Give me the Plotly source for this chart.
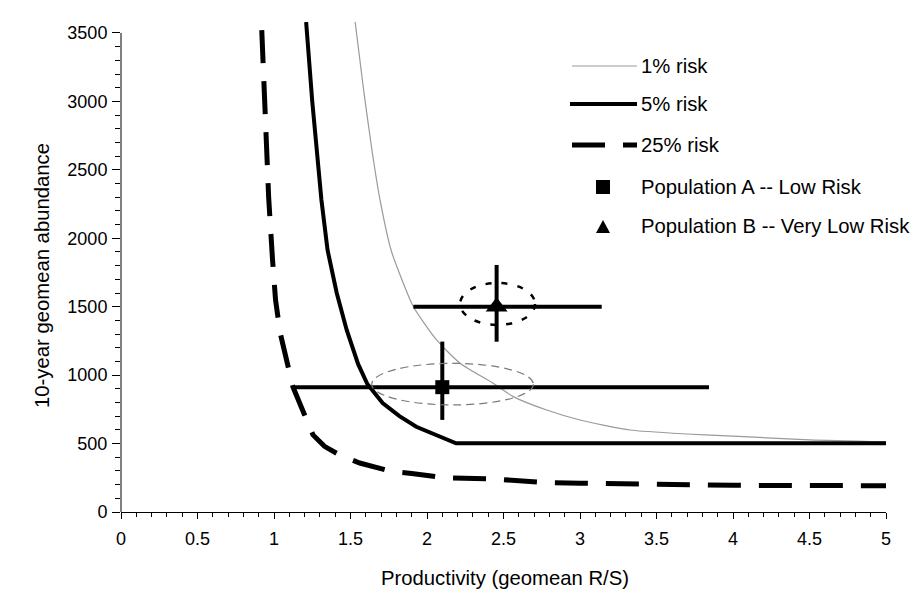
import plotly.graph_objects as go

# ---------------- data ----------------
risk1_x = [1.53, 1.585, 1.64, 1.693, 1.765, 1.837, 1.911, 2.063, 2.216, 2.433, 2.564, 2.782, 3.00, 3.327, 3.70, 4.00, 4.50, 5.00]
risk1_y = [3583, 3090, 2645, 2280, 1914, 1695, 1500, 1257, 1087, 940, 843, 745, 672, 599, 570, 555, 527, 512]

risk5_x = [1.21, 1.25, 1.31, 1.35, 1.41, 1.475, 1.55, 1.61, 1.71, 1.82, 1.93, 2.06, 2.19, 5.00]
risk5_y = [3580, 3000, 2280, 1914, 1600, 1330, 1080, 935, 796, 700, 623, 560, 502, 502]

risk25_x = [0.92, 0.95, 0.965, 0.99, 1.01, 1.04, 1.085, 1.124, 1.20, 1.255, 1.33, 1.43, 1.56, 1.77, 1.90, 2.107, 2.44, 2.78, 3.00, 3.50, 4.00, 5.00]
risk25_y = [3520, 2700, 2300, 1850, 1550, 1310, 1090, 913, 709, 563, 480, 416, 358, 295, 282, 251, 241, 214, 210, 200, 195, 192]

popA = dict(x=2.10, y=912, ex_minus=0.963, ex_plus=1.743, ey_minus=239, ey_plus=333)
popB = dict(x=2.455, y=1500, ex_minus=0.544, ex_plus=0.687, ey_minus=256, ey_plus=305)

ellA = dict(cx=2.167, cy=934, rx=0.528, ry=152)
ellB = dict(cx=2.461, cy=1520, rx=0.245, ry=153)

x_ticks = [0, 0.5, 1, 1.5, 2, 2.5, 3, 3.5, 4, 4.5, 5]
y_ticks = [0, 500, 1000, 1500, 2000, 2500, 3000, 3500]

legend_labels = ["1% risk", "5% risk", "25% risk", "Population A -- Low Risk", "Population B -- Very Low Risk"]

x_title = "Productivity (geomean R/S)"
y_title = "10-year geomean abundance"

# ---------------- layout geometry ----------------
OFF = 8  # page body margin
W, H = 913, 593
L, R, T, B = 113, 35, 14, 89
PW, PH = W - L - R, H - T - B
Y_TOP = 3580
FONT = "Liberation Sans, Arial, sans-serif"
GRAY = "#9a9a9a"
TXT = 20.3
TICK = 18


def px(xs):
    return (xs - OFF - L) / PW


def py(ys):
    return (H - B - (ys - OFF)) / PH


fig = go.Figure()

fig.add_trace(go.Scatter(x=risk1_x, y=risk1_y, mode="lines",
                         line=dict(color=GRAY, width=1.2, shape="spline", smoothing=0.6),
                         showlegend=False, hoverinfo="skip"))
fig.add_trace(go.Scatter(x=risk5_x, y=risk5_y, mode="lines",
                         line=dict(color="black", width=4),
                         showlegend=False, hoverinfo="skip"))
fig.add_trace(go.Scatter(x=risk25_x, y=risk25_y, mode="lines",
                         line=dict(color="black", width=5, dash="33px,18px"),
                         showlegend=False, hoverinfo="skip"))

for pop, sym, size in [(popA, "square", 14), (popB, "triangle-up", 19)]:
    fig.add_trace(go.Scatter(
        x=[pop["x"]], y=[pop["y"]], mode="markers",
        marker=dict(symbol=sym, size=size, color="black"),
        error_x=dict(type="data", symmetric=False, array=[pop["ex_plus"]],
                     arrayminus=[pop["ex_minus"]], thickness=4, width=0, color="black"),
        error_y=dict(type="data", symmetric=False, array=[pop["ey_plus"]],
                     arrayminus=[pop["ey_minus"]], thickness=4, width=0, color="black"),
        showlegend=False, hoverinfo="skip", cliponaxis=False))

shapes = []
# confidence ellipses
shapes.append(dict(type="circle", xref="x", yref="y",
                   x0=ellA["cx"] - ellA["rx"], x1=ellA["cx"] + ellA["rx"],
                   y0=ellA["cy"] - ellA["ry"], y1=ellA["cy"] + ellA["ry"],
                   line=dict(color="#7a7a7a", width=1.2, dash="8px,5px")))
shapes.append(dict(type="circle", xref="x", yref="y",
                   x0=ellB["cx"] - ellB["rx"], x1=ellB["cx"] + ellB["rx"],
                   y0=ellB["cy"] - ellB["ry"], y1=ellB["cy"] + ellB["ry"],
                   line=dict(color="black", width=2.5, dash="6px,10px")))

# y axis line (only up to 3500)
shapes.append(dict(type="line", xref="paper", yref="paper", x0=0, x1=0,
                   y0=0, y1=3500 / Y_TOP, line=dict(color="black", width=1)))

# manual legend
shapes.append(dict(type="line", xref="paper", yref="paper", x0=px(572), x1=px(637),
                   y0=py(66), y1=py(66), line=dict(color=GRAY, width=1.2)))
shapes.append(dict(type="line", xref="paper", yref="paper", x0=px(570), x1=px(637),
                   y0=py(104), y1=py(104), line=dict(color="black", width=4)))
shapes.append(dict(type="line", xref="paper", yref="paper", x0=px(572), x1=px(637),
                   y0=py(145), y1=py(145), line=dict(color="black", width=5, dash="33px,18px")))
shapes.append(dict(type="rect", xref="paper", yref="paper", x0=px(596), x1=px(610),
                   y0=py(194), y1=py(180), line=dict(width=0), fillcolor="black"))
shapes.append(dict(type="path", xref="paper", yref="paper",
                   path=f"M {px(596)},{py(233)} L {px(610)},{py(233)} L {px(603)},{py(220)} Z",
                   line=dict(width=0), fillcolor="black"))

annotations = []
for lab, yy in zip(legend_labels, [66, 104, 145, 187, 226]):
    annotations.append(dict(text=lab, xref="paper", yref="paper", x=px(639), y=py(yy),
                            xanchor="left", yanchor="middle", showarrow=False,
                            font=dict(family=FONT, size=TXT, color="black")))
annotations.append(dict(text=x_title, xref="paper", yref="paper", x=px(504.5), y=py(578),
                        xanchor="center", yanchor="middle", showarrow=False,
                        font=dict(family=FONT, size=TXT, color="black")))
annotations.append(dict(text=y_title, xref="paper", yref="paper", x=px(42), y=py(276),
                        xanchor="center", yanchor="middle", showarrow=False, textangle=-90,
                        font=dict(family=FONT, size=TXT, color="black")))

fig.update_layout(
    width=W, height=H,
    margin=dict(l=L, r=R, t=T, b=B),
    paper_bgcolor="white",
    plot_bgcolor="white",
    font=dict(family=FONT, size=TICK, color="black"),
    shapes=shapes,
    annotations=annotations,
    xaxis=dict(range=[0, 5], tickvals=x_ticks, ticktext=[str(v) for v in x_ticks],
               showgrid=False, zeroline=False, showline=True, linecolor="black", linewidth=1,
               ticks="outside", ticklen=6, tickwidth=1, tickcolor="black", ticklabelstandoff=4,
               minor=dict(ticks="outside", ticklen=4, tickwidth=1, tickcolor="black", dtick=0.1,
                          showgrid=False),
               tickfont=dict(family=FONT, size=TICK)),
    yaxis=dict(range=[0, Y_TOP], tickvals=y_ticks, ticktext=[str(v) for v in y_ticks],
               showgrid=False, zeroline=False, showline=False,
               ticks="outside", ticklen=8, tickwidth=1, tickcolor="black", ticklabelstandoff=1,
               minor=dict(ticks="outside", ticklen=5, tickwidth=1, tickcolor="black", dtick=100,
                          showgrid=False),
               tickfont=dict(family=FONT, size=TICK)),
)

fig.write_html("out.html")
